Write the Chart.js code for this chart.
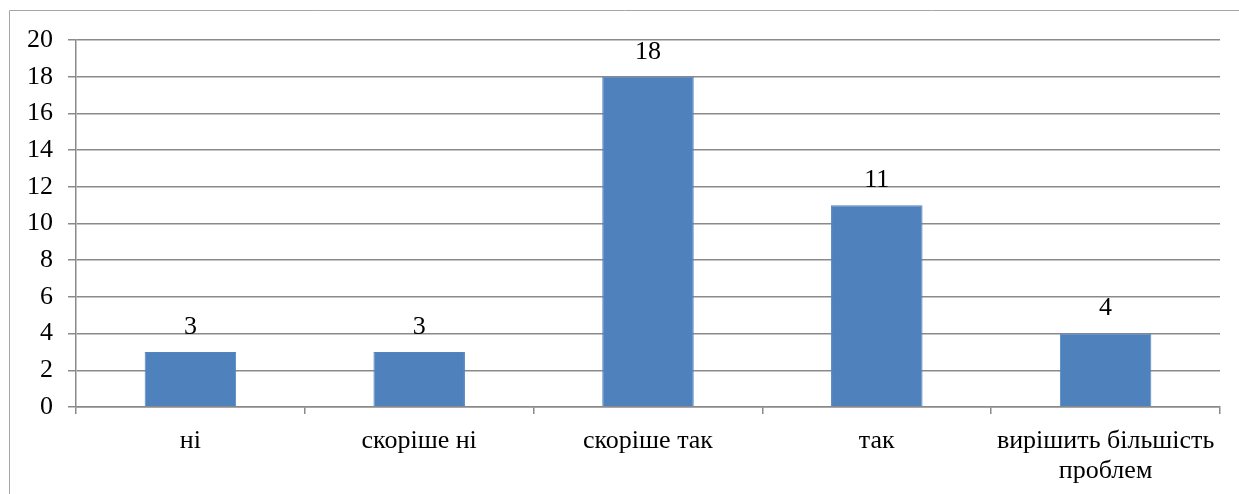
<!DOCTYPE html>
<html>
<head>
<meta charset="utf-8">
<script src="https://cdn.jsdelivr.net/npm/chart.js@4/dist/chart.umd.min.js"></script>
<style>
html,body{margin:0;padding:0;background:#fff;}
#wrap{position:absolute;left:0;top:0;width:1239px;height:494px;}
</style>
</head>
<body>
<div id="wrap"><canvas id="c" width="1239" height="494"></canvas></div>
<script>
const categories = ["ні", "скоріше ні", "скоріше так", "так", ["вирішить більшість", "проблем"]];
const values = [3, 3, 18, 11, 4];
const yTicks = [0, 2, 4, 6, 8, 10, 12, 14, 16, 18, 20];

const FONT = "'Liberation Serif', 'Times New Roman', serif";
const GRID = '#8a8a8a';

const frame = {
  id: 'frame',
  beforeDraw(chart) {
    const ctx = chart.ctx;
    ctx.save();
    ctx.fillStyle = '#fff';
    ctx.fillRect(0, 0, chart.width, chart.height);
    ctx.strokeStyle = '#a6a6a6';
    ctx.lineWidth = 1;
    ctx.beginPath();
    ctx.moveTo(9.5, chart.height + 5);
    ctx.lineTo(9.5, 10.5);
    ctx.lineTo(chart.width + 5, 10.5);
    ctx.stroke();
    ctx.restore();
  }
};

const valueLabels = {
  id: 'valueLabels',
  afterDatasetsDraw(chart) {
    const ctx = chart.ctx;
    const meta = chart.getDatasetMeta(0);
    ctx.save();
    ctx.font = '26px ' + FONT;
    ctx.fillStyle = '#000';
    ctx.textAlign = 'center';
    ctx.textBaseline = 'middle';
    meta.data.forEach((bar, i) => {
      ctx.fillText(String(values[i]), bar.x, bar.y - 25);
    });
    ctx.restore();
  }
};

new Chart(document.getElementById('c'), {
  type: 'bar',
  data: {
    labels: categories,
    datasets: [{
      data: values,
      backgroundColor: '#4F81BD',
      borderColor: '#5585c0',
      borderWidth: 1,
      barPercentage: 0.4,
      categoryPercentage: 1.0
    }]
  },
  options: {
    responsive: false,
    animation: false,
    devicePixelRatio: 1,
    layout: { padding: { left: 0, right: 19, top: 40, bottom: 0 } },
    plugins: { legend: { display: false }, tooltip: { enabled: false } },
    scales: {
      y: {
        min: 0, max: 20,
        afterFit(scale) { scale.width = 76; },
        afterBuildTicks(scale) { scale.ticks = yTicks.map(v => ({ value: v })); },
        ticks: { color: '#000', font: { family: FONT, size: 26 }, padding: 15 },
        grid: { color: GRID, lineWidth: 1.5, tickLength: 8, drawTicks: true },
        border: { color: GRID, width: 1.5 }
      },
      x: {
        afterFit(scale) { scale.height = 87; },
        ticks: { color: '#000', font: { family: FONT, size: 26, lineHeight: 1.15 }, padding: 12, maxRotation: 0, autoSkip: false },
        grid: { color: GRID, drawOnChartArea: false, tickLength: 7, offset: true, lineWidth: 1.5 },
        border: { color: GRID, width: 1.5 }
      }
    }
  },
  plugins: [frame, valueLabels]
});
</script>
</body>
</html>
